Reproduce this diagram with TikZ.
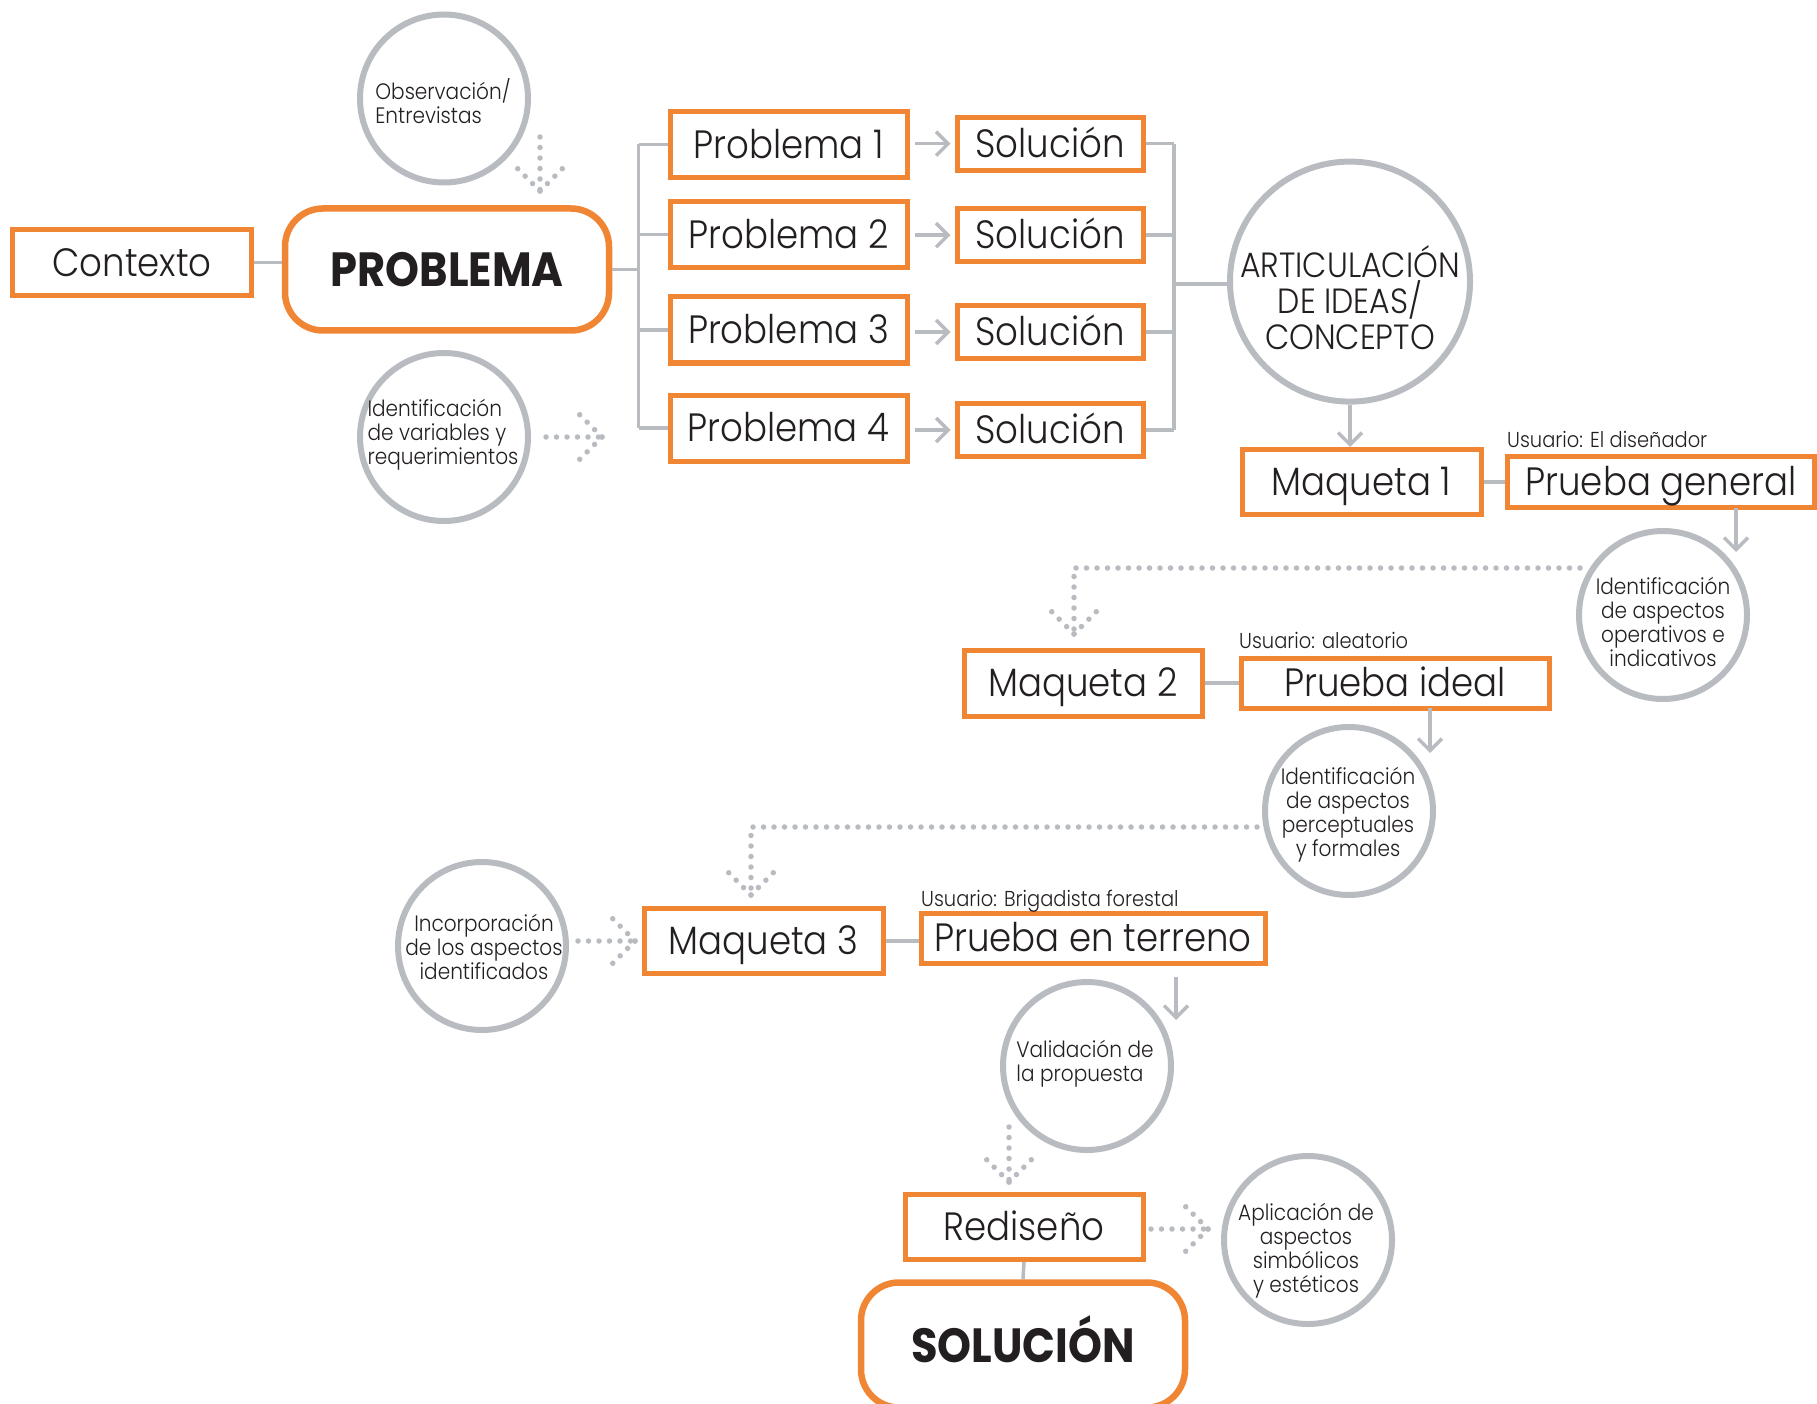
\documentclass[tikz,border=0pt]{standalone}
\usepackage{fontspec}
\IfFontExistsTF{Poppins Light}
  {\setmainfont{Poppins Light}[FakeStretch=0.9,BoldFont=Poppins Bold]}
  {\setmainfont{Poppins}[FakeStretch=0.9]}
\usetikzlibrary{arrows.meta,calc}

\definecolor{orng}{HTML}{F08533}
\definecolor{grayc}{HTML}{B8BCC1}
\definecolor{ink}{HTML}{231F20}

\tikzset{
  obox/.style={draw=orng, line width=5pt, fill=white, inner sep=0pt, text=ink,
    text height=27.5pt, text depth=0pt,
    font=\fontsize{39.5}{44}\selectfont},
  bigbox/.style={draw=orng, line width=6.5pt, rounded corners=38pt, fill=white,
    inner sep=0pt, text=ink, font=\bfseries\fontsize{48}{52}\selectfont},
  gcirc/.style={draw=grayc, line width=6pt, circle, fill=white, inner sep=0pt,
    minimum size=168pt},
  ctext/.style={text=ink, inner sep=0pt, font=\fontsize{22.3}{24}\selectfont},
  ulabel/.style={text=ink, inner sep=0pt, anchor=base west,
    font=\fontsize{21.6}{24}\selectfont},
  gline/.style={draw=grayc, line width=3.5pt},
  garrow/.style={gline, -{Straight Barb[length=12pt,width=24pt,line width=3.5pt]}},
  dots/.style={draw=grayc, line width=5.5pt, line cap=round,
    dash pattern=on 0pt off 10.5pt},
}

\begin{document}
\begin{tikzpicture}[x=1pt,y=-1pt]
\useasboundingbox (0,0) rectangle (1817,1404);

% ---------- problem stage ----------
\node[obox, minimum width=239pt, minimum height=66pt] (contexto) at (132,262.5) {Contexto};
\node[bigbox, minimum width=324pt, minimum height=122pt] (problema) at (447,269.5) {PROBLEMA};
\draw[gline] (contexto.east) -- (contexto.east -| problema.west);

\node[gcirc] (obs) at (444,98.5) {};
\node[ctext, align=left] (obstxt) at (443,101) {Observación/\\Entrevistas};
\node[gcirc] (ivar) at (444,437) {};
\node[ctext, align=left] (ivartxt) at (443,435) {Identificación\\de variables y\\requerimientos};

% dotted arrow: observation -> problem
\coordinate (obsA) at (540,137);
\coordinate (obsT) at (540,191);
\draw[dots] (obsA) -- (obsT);
\draw[dots] (obsT) -- ++(-24,-24);
\draw[dots] (obsT) -- ++(24,-24);
% dotted arrow: variables -> sub-problems
\coordinate (ivarA) at (546,437);
\coordinate (ivarT) at (602,437);
\draw[dots] (ivarA) -- (ivarT);
\draw[dots] (ivarT) -- ++(-24,-24);
\draw[dots] (ivarT) -- ++(-24,24);

% sub-problems and their solutions
\foreach \i/\py/\sy in {1/144.3/143.7, 2/234.6/235.2, 3/330/332, 4/428.2/430} {
  \node[obox, minimum width=237pt, minimum height=66pt] (P\i) at (788.5,\py) {Problema \i};
  \node[obox, minimum width=186pt, minimum height=53pt] (S\i) at (1050,\sy) {Solución};
  \draw[garrow, shorten <=5pt, shorten >=4pt] (P\i.east |- S\i.west) -- (S\i.west);
}

% left bracket
\coordinate (bl) at (638.5,269.5);
\draw[gline] (problema.east) -- (bl);
\draw[gline] (bl |- P1.west) -- (bl |- P4.west);
\foreach \i in {1,...,4} \draw[gline] (bl |- P\i.west) -- (P\i.west);

% concept
\node[gcirc, minimum size=240pt] (art) at (1350,281.6) {};
\node[text=ink, inner sep=0pt, align=center, font=\fontsize{35}{36}\selectfont]
  (arttxt) at (1350,298) {ARTICULACIÓN\\DE IDEAS/\\CONCEPTO};

% right bracket
\coordinate (br) at (1174,284);
\draw[gline] (br |- S1.east) -- (br |- S4.east);
\foreach \i in {1,...,4} \draw[gline] (S\i.east) -- (br |- S\i.east);
\draw[gline] (br) -- (br -| art.west);

% ---------- mock-up 1 ----------
\node[obox, minimum width=239pt, minimum height=65pt] (m1) at (1361.5,482) {Maqueta 1};
\node[obox, minimum width=307pt, minimum height=51pt] (t1) at (1661,482) {Prueba general};
\node[ulabel] (u1) at (1507,447) {Usuario: El diseñador};
\draw[garrow] (art.south) -- (art.south |- m1.north);
\draw[gline] (m1.east) -- (t1.west);

\node[gcirc] (c1) at (1663,615) {};
\node[ctext, align=center] (c1txt) at (1663,622)
  {Identificación\\de aspectos\\operativos e\\indicativos};
\coordinate (t1a) at (1736,508);
\draw[garrow] (t1a) -- ++(0,44);

% ---------- mock-up 2 ----------
\node[obox, minimum width=238pt, minimum height=66pt] (m2) at (1083,683) {Maqueta 2};
\node[obox, minimum width=308pt, minimum height=50pt] (t2) at (1395,683) {Prueba ideal};
\node[ulabel] (u2) at (1239,648) {Usuario: aleatorio};
\draw[gline] (m2.east) -- (t2.west);

\coordinate (c1s) at (1580,568);
\coordinate (m2T) at (1074,634);
\draw[dots] (c1s) -| (m2T);
\draw[dots] (m2T) -- ++(-24,-24);
\draw[dots] (m2T) -- ++(24,-24);

\node[gcirc] (c2) at (1349,811) {};
\node[ctext, align=center] (c2txt) at (1348,815)
  {Identificación\\de aspectos\\perceptuales\\y formales};
\coordinate (t2a) at (1430,708);
\draw[garrow] (t2a) -- ++(0,45);

% ---------- mock-up 3 ----------
\node[obox, minimum width=239pt, minimum height=65pt] (m3) at (763.5,941) {Maqueta 3};
\node[obox, minimum width=344pt, minimum height=50pt] (t3) at (1093,938) {Prueba en terreno};
\node[ulabel] (u3) at (921,906) {Usuario: Brigadista forestal};
\draw[gline] (m3.east) -- (m3.east -| t3.west);

\coordinate (c2s) at (1257,827);
\coordinate (m3T) at (751,895);
\draw[dots] (c2s) -| (m3T);
\draw[dots] (m3T) -- ++(-24,-24);
\draw[dots] (m3T) -- ++(24,-24);

\node[gcirc] (c3) at (482,946) {};
\node[ctext, align=center] (c3txt) at (484,947)
  {Incorporación\\de los aspectos\\identificados};
\coordinate (c3A) at (578,941);
\coordinate (c3T) at (635,941);
\draw[dots] (c3A) -- (c3T);
\draw[dots] (c3T) -- ++(-24,-24);
\draw[dots] (c3T) -- ++(-24,24);

\coordinate (t3a) at (1176,977);
\draw[garrow] (t3a) -- ++(0,43);

\node[gcirc] (c4) at (1087,1066) {};
\node[ctext, align=left] (c4txt) at (1085,1064) {Validación de\\la propuesta};

% ---------- redesign and solution ----------
\node[obox, minimum width=238pt, minimum height=65pt] (rd) at (1024,1227) {Rediseño};
\node[bigbox, minimum width=324pt, minimum height=125pt] (sol) at (1023,1345)
  {\raisebox{12pt}{SOLUCIÓN}};
\draw[gline] (rd.south) -- (sol.north);

\coordinate (c4A) at (1009,1127);
\coordinate (c4T) at (1009,1182);
\draw[dots] (c4A) -- (c4T);
\draw[dots] (c4T) -- ++(-24,-24);
\draw[dots] (c4T) -- ++(24,-24);

\node[gcirc] (c5) at (1308,1240) {};
\node[ctext, align=center] (c5txt) at (1306,1251)
  {Aplicación de\\aspectos\\simbólicos\\y estéticos};
\coordinate (rdA) at (1151,1229);
\coordinate (rdT) at (1208,1229);
\draw[dots] (rdA) -- (rdT);
\draw[dots] (rdT) -- ++(-24,-24);
\draw[dots] (rdT) -- ++(-24,24);
\end{tikzpicture}
\end{document}
